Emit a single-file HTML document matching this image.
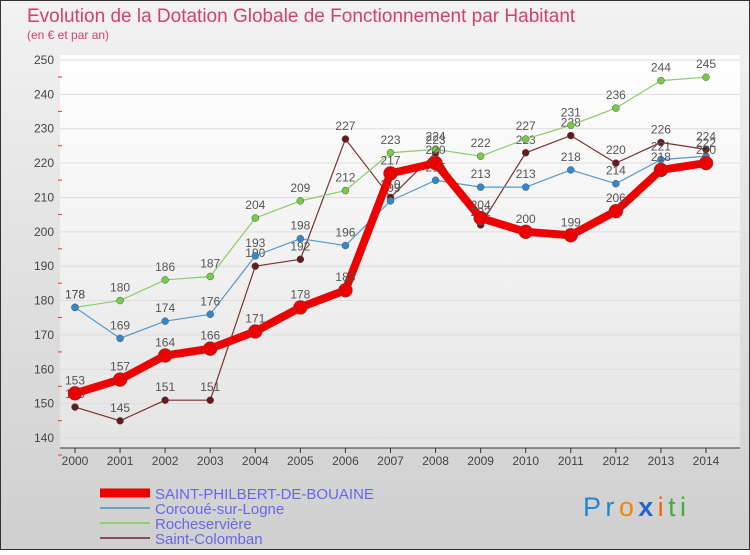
<!DOCTYPE html>
<html><head><meta charset="utf-8"><style>
body{margin:0;width:750px;height:550px;overflow:hidden;font-family:"Liberation Sans","DejaVu Sans",sans-serif}
</style></head><body>
<svg id="c" width="750" height="550" xmlns="http://www.w3.org/2000/svg">
<defs>
<linearGradient id="bg" x1="0" y1="0" x2="0" y2="1"><stop offset="0" stop-color="#f2f2f2"/><stop offset="1" stop-color="#cfcfcf"/></linearGradient>
<linearGradient id="pl" x1="0" y1="0" x2="0" y2="1"><stop offset="0" stop-color="#ffffff"/><stop offset="1" stop-color="#e4e4e4"/></linearGradient>
</defs>
<rect x="0.5" y="0.5" width="749" height="549" fill="url(#bg)" stroke="#333"/>
<rect x="60" y="55" width="680" height="393" fill="url(#pl)"/>
<text x="27" y="22" font-size="19" fill="#d04070">Evolution de la Dotation Globale de Fonctionnement par Habitant</text>
<text x="27" y="39" font-size="12" fill="#d04070">(en € et par an)</text>
<g id="axes"></g>
<g id="series"></g>
<g id="legend" font-size="15" fill="#6666ee">
<line x1="100" y1="493" x2="150" y2="493" stroke="#ee0000" stroke-width="9"/>
<text x="155" y="499">SAINT-PHILBERT-DE-BOUAINE</text>
<line x1="100" y1="508" x2="150" y2="508" stroke="#6a9ec8" stroke-width="2"/>
<text x="155" y="514">Corcoué-sur-Logne</text>
<line x1="100" y1="523" x2="150" y2="523" stroke="#8fd070" stroke-width="2"/>
<text x="155" y="529">Rocheservière</text>
<line x1="100" y1="538" x2="150" y2="538" stroke="#8a5050" stroke-width="2"/>
<text x="155" y="544">Saint-Colomban</text>
</g>
<text x="583" y="516" font-size="27" textLength="103"><tspan fill="#2288cc">Pr</tspan><tspan fill="#ee8800">o</tspan><tspan fill="#2266cc" font-weight="bold">x</tspan><tspan fill="#ee6600">i</tspan><tspan fill="#44aa44">ti</tspan></text>
</svg>
<script>
const years=[2000,2001,2002,2003,2004,2005,2006,2007,2008,2009,2010,2011,2012,2013,2014];
const yTicks=[140,150,160,170,180,190,200,210,220,230,240,250];
const stPhilbert=[153,157,164,166,171,178,183,217,220,204,200,199,206,218,220];
const corcoue=[178,169,174,176,193,198,196,209,215,213,213,218,214,221,222];
const rocheserviere=[178,180,186,187,204,209,212,223,224,222,227,231,236,244,245];
const stColomban=[149,145,151,151,190,192,227,210,223,202,223,228,220,226,224];
const NS="http://www.w3.org/2000/svg";
const xS=i=>75+i*(706-75)/14;
const yS=v=>438-(v-140)*(378/110);
function mk(t,a,p){const e=document.createElementNS(NS,t);for(const k in a)e.setAttribute(k,a[k]);p.appendChild(e);return e;}
const ax=document.getElementById('axes');
yTicks.forEach(v=>{
  const y=yS(v);
  const g=mk('line',{x1:60,y1:y,x2:740,y2:y,stroke:'#dddddd','stroke-width':1},ax);
  
  
  const t=mk('text',{x:54,y:y+4,'text-anchor':'end','font-size':12,fill:'#444'},ax);
  t.textContent=v;
  
  
  const m=mk('line',{x1:58,y1:y+17,x2:62,y2:y+17,stroke:'#ee3333'},ax);
  
  
});
const a1=mk('line',{x1:60,y1:448,x2:740,y2:448,stroke:'#333'},ax);


years.forEach((yr,i)=>{
  const t=mk('text',{x:xS(i),y:465,'text-anchor':'middle','font-size':12,fill:'#444'},ax);
  t.textContent=yr;
  
  
  const tk=mk('line',{x1:xS(i),y1:448,x2:xS(i),y2:453,stroke:'#333'},ax);
  
  
});
const sg=document.getElementById('series');
function draw(name,vals,color,w,r,dot){
  const g=mk('g',{},sg);
  
  
  const pl=mk('polyline',{points:vals.map((v,i)=>xS(i)+','+yS(v)).join(' '),fill:'none',stroke:color,'stroke-width':w,'stroke-linejoin':'round'},g);
  
  
  vals.forEach((v,i)=>{
    const c=mk('circle',{cx:xS(i),cy:yS(v),r:r,fill:dot,stroke:'#555','stroke-width':0.5},g);
    
    
    const t=mk('text',{x:xS(i),y:yS(v)-9,'text-anchor':'middle','font-size':12,fill:'#555'},g);
    t.textContent=v;
    
    
  });
}
draw('saint-colomban',stColomban,'#7a3030',1.2,3.5,'#661a1a');
draw('rocheserviere',rocheserviere,'#88cc66',1.2,3.5,'#77cc44');
draw('corcoue',corcoue,'#5599cc',1.2,3.5,'#3388cc');
draw('saint-philbert',stPhilbert,'#ee0000',8,7,'#ee0000');
</script>
</body></html>
